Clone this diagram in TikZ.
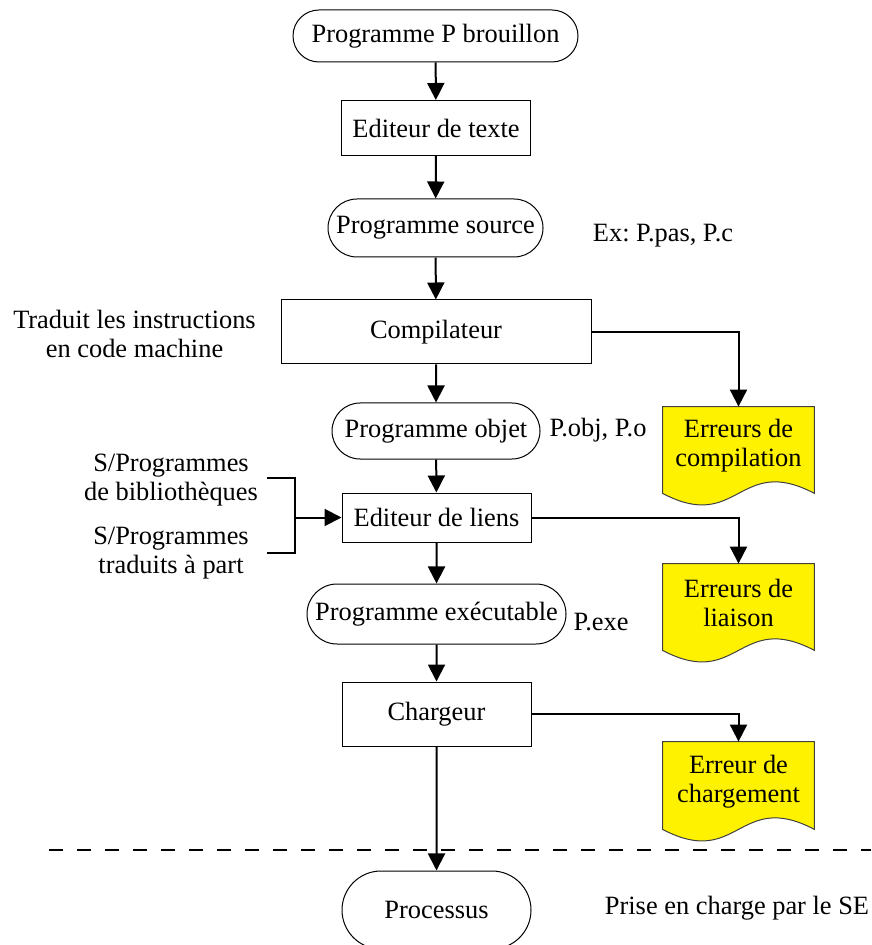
\documentclass[tikz,border=0pt]{standalone}
\usepackage{fontspec}
\setmainfont{Liberation Serif}
\frenchspacing
\usetikzlibrary{shapes.misc,arrows.meta,calc,backgrounds}
\tikzset{
  every node/.style={font=\fontsize{13.2}{14.5}\selectfont, inner sep=0pt},
  stadium/.style={rounded rectangle, draw, line width=0.5pt, align=center},
  boxnode/.style={rectangle, draw, line width=0.5pt, align=center},
  docnode/.style={rectangle, minimum width=75.5pt},
  doctext/.style={align=center},
  lbl/.style={align=center},
  arr/.style={line width=1pt, -{Triangle[length=8.5pt,width=8.5pt]}},
  docfill/.style={fill=yellow, draw=black!75, line width=0.5pt},
}
\newcommand{\docshape}[1]{%
  \begin{pgfonlayer}{background}
  \path[docfill] (#1.north west) -- (#1.north east) -- (#1.south east)
    .. controls ($(#1.south)+(0,-40)$) and ($(#1.south)+(0,40)$) .. (#1.south west) -- cycle;
  \end{pgfonlayer}}
\begin{document}
\begin{tikzpicture}[x=0.5pt,y=-0.5pt]
\useasboundingbox (0,0) rectangle (871,945);
% main column
\node[stadium, minimum width=142.5pt, minimum height=26pt] (n1) at (435.5,36) {Programme P brouillon};
\node[boxnode, minimum width=94.5pt, minimum height=27.5pt] (n2) at (436,128) {Editeur de texte};
\node[stadium, minimum width=107.5pt, minimum height=29pt] (n3) at (435.5,228) {Programme source};
\node[boxnode, minimum width=155pt, minimum height=32pt] (n4) at (436,332) {Compilateur};
\node[stadium, minimum width=104pt, minimum height=28pt] (n5) at (436,431) {Programme objet};
\node[boxnode, minimum width=94.5pt, minimum height=24.5pt] (n6) at (436.5,517.5) {Editeur de liens};
\node[stadium, minimum width=129.5pt, minimum height=30pt] (n7) at (436.5,614) {Programme exécutable};
\node[boxnode, minimum width=94.5pt, minimum height=32pt] (n8) at (436.5,714) {Chargeur};
\node[stadium, minimum width=94.5pt, minimum height=39pt] (n9) at (436.5,910) {Processus};
% arrows main
\draw[arr] (n1) -- (n2);
\draw[arr] (n2) -- (n3);
\draw[arr] (n3) -- (n4);
\draw[arr] (n4) -- (n5);
\draw[arr] (n5) -- (n6);
\draw[arr] (n6) -- (n7);
\draw[arr] (n7) -- (n8);
\draw[arr] (n8) -- (n9);
% error documents
\node[docnode, minimum height=43pt] (d1) at (738.5,450) {};
\node[doctext] (t1) at ([yshift=2pt]d1.center) {Erreurs de\\compilation};
\docshape{d1}
\node[docnode, minimum height=43pt] (d2) at (738.5,607) {};
\node[doctext] (t2) at ([yshift=2pt]d2.center) {Erreurs de\\liaison};
\docshape{d2}
\node[docnode, minimum height=43.5pt] (d3) at (738.5,785.5) {};
\node[doctext] (t3) at ([yshift=2pt]d3.center) {Erreur de\\chargement};
\docshape{d3}
\draw[arr] (n4.east) -| (d1.north);
\draw[arr] (n6.east) -| (d2.north);
\draw[arr] (n8.east) -| (d3.north);
% side labels
\node[lbl] (l1) at (663,236) {Ex: P.pas, P.c};
\node[lbl] (l2) at (134.5,334) {Traduit les instructions\\en code machine};
\node[lbl] (l3) at (598,430) {P.obj, P.o};
\node[lbl] (l4) at (601,622) {P.exe};
\node[lbl] (l5) at (171,480) {S/Programmes\\de bibliothèques};
\node[lbl] (l6) at (171,553) {S/Programmes\\traduits à part};
\node[lbl] (l7) at (737,908) {Prise en charge par le SE};
% bracket
\coordinate (b1) at (267,478);
\coordinate (b2) at (295,478);
\coordinate (b3) at (295,553);
\coordinate (b4) at (267,553);
\coordinate (bm) at (295,517.5);
\draw[line width=0.6pt] (b1) -- (b2) -- (b3) -- (b4);
\draw[arr] (bm) -- (n6.west);
% dashed separator
\coordinate (s1) at (49,850);
\coordinate (s2) at (871,850);
\draw[line width=0.8pt, dash pattern=on 7pt off 7pt] (s1) -- (s2);
\end{tikzpicture}
\end{document}
